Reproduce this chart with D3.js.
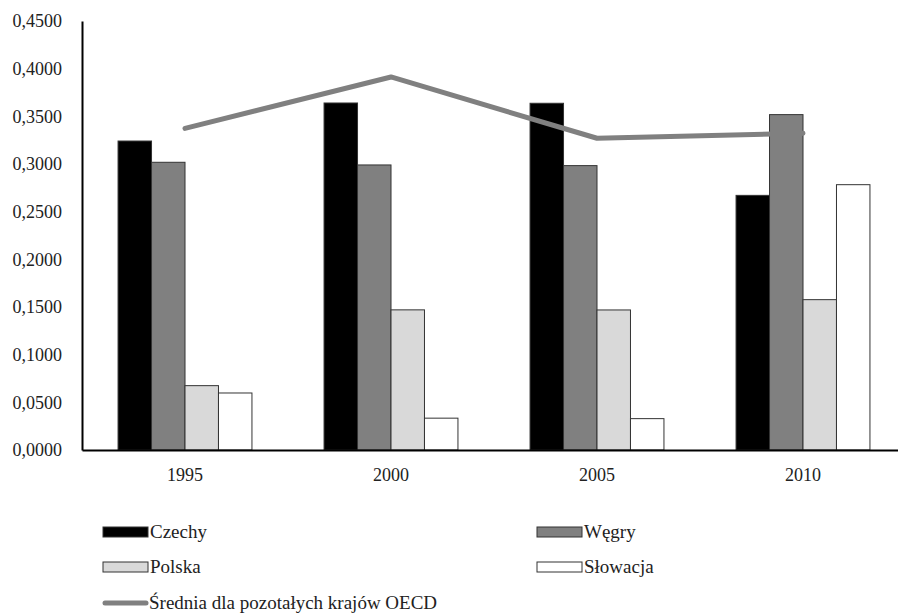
<!DOCTYPE html>
<html>
<head>
<meta charset="utf-8">
<script src="https://cdn.jsdelivr.net/npm/d3@7"></script>
<style>
    body { margin: 0; background: #fff; }
    svg text { font-family: "Liberation Serif", "Times New Roman", Tinos, "DejaVu Serif", "Noto Serif", serif; fill: #222; }
</style>
</head>
<body>
<svg id="drawing_region"></svg>
<script>
// data
const years = ['1995', '2000', '2005', '2010'];
const series = ['Czechy', 'Węgry', 'Polska', 'Słowacja'];
const czechy   = [0.3241, 0.3640, 0.3637, 0.2671];
const wegry    = [0.3018, 0.2990, 0.2983, 0.3518];
const polska   = [0.0675, 0.1470, 0.1469, 0.1577];
const slowacja = [0.0598, 0.0334, 0.0329, 0.2783];
const oecd     = [0.3373, 0.3913, 0.3270, 0.3322];
const oecd_label = 'Średnia dla pozotałych krajów OECD';
const y_ticks = [0, 0.05, 0.1, 0.15, 0.2, 0.25, 0.3, 0.35, 0.4, 0.45];

const values = [czechy, wegry, polska, slowacja];
const fills = ['#000000', '#808080', '#d9d9d9', '#ffffff'];

const config = {
    width: 898,
    height: 613,
    left: 82,
    right: 906,
    top: 21,
    bottom: 450,
};

const svg = d3.select('#drawing_region')
    .attr('width', config.width)
    .attr('height', config.height);

const x0 = d3.scaleBand()
    .domain(years)
    .range([config.left, config.right])
    .paddingInner(0.35)
    .paddingOuter(0.175);

const x1 = d3.scaleBand()
    .domain(series)
    .range([0, x0.bandwidth()]);

const yscale = d3.scaleLinear()
    .domain([0, 0.45])
    .range([config.bottom, config.top]);

// bars
const rows = [];
years.forEach((yr, i) => {
    series.forEach((s, j) => {
        rows.push({ year: yr, series: s, value: values[j][i], fill: fills[j] });
    });
});

svg.append('g').selectAll('rect')
    .data(rows)
    .enter()
    .append('rect')
    .attr('x', d => x0(d.year) + x1(d.series))
    .attr('y', d => yscale(d.value))
    .attr('width', x1.bandwidth())
    .attr('height', d => config.bottom - yscale(d.value))
    .attr('fill', d => d.fill)
    .attr('stroke', '#333')
    .attr('stroke-width', 1);

// OECD line
const line = d3.line()
    .x((d, i) => x0(years[i]) + x0.bandwidth() / 2)
    .y(d => yscale(d));

svg.append('path')
    .datum(oecd)
    .attr('d', line)
    .attr('fill', 'none')
    .attr('stroke', '#808080')
    .attr('stroke-width', 5)
    .attr('stroke-linecap', 'round')
    .attr('stroke-linejoin', 'round');

// axes
const yaxis = d3.axisLeft(yscale)
    .tickValues(y_ticks)
    .tickSize(0)
    .tickPadding(20)
    .tickFormat(d => d.toFixed(4).replace('.', ','));

const yaxis_group = svg.append('g')
    .attr('transform', `translate(${config.left}, 0)`)
    .call(yaxis);

const xaxis = d3.axisBottom(x0)
    .tickSize(0)
    .tickPadding(18)
    .tickSizeOuter(0);

const xaxis_group = svg.append('g')
    .attr('transform', `translate(0, ${config.bottom})`)
    .call(xaxis);

[yaxis_group, xaxis_group].forEach(g => {
    g.attr('font-family', null);
    g.select('.domain').attr('stroke', '#000').attr('stroke-width', 2);
    g.selectAll('text')
        .attr('font-size', '18px')
        .attr('fill', '#222');
});

// legend
const legend_items = [
    { label: series[0], fill: fills[0], x: 103, y: 532 },
    { label: series[1], fill: fills[1], x: 537, y: 532 },
    { label: series[2], fill: fills[2], x: 103, y: 567 },
    { label: series[3], fill: fills[3], x: 537, y: 567 },
];

const legend = svg.append('g');

legend.selectAll('rect')
    .data(legend_items)
    .enter()
    .append('rect')
    .attr('x', d => d.x)
    .attr('y', d => d.y - 5)
    .attr('width', 45)
    .attr('height', 10)
    .attr('fill', d => d.fill)
    .attr('stroke', '#333')
    .attr('stroke-width', 1);

legend.selectAll('text.item')
    .data(legend_items)
    .enter()
    .append('text')
    .attr('class', 'item')
    .attr('x', d => d.x + 47)
    .attr('y', d => d.y + 6)
    .attr('font-size', '19px')
    .text(d => d.label);

legend.append('line')
    .attr('x1', 105).attr('x2', 146)
    .attr('y1', 603).attr('y2', 603)
    .attr('stroke', '#808080')
    .attr('stroke-width', 5)
    .attr('stroke-linecap', 'round');

legend.append('text')
    .attr('x', 149)
    .attr('y', 609)
    .attr('font-size', '19px')
    .text(oecd_label);
</script>
</body>
</html>
